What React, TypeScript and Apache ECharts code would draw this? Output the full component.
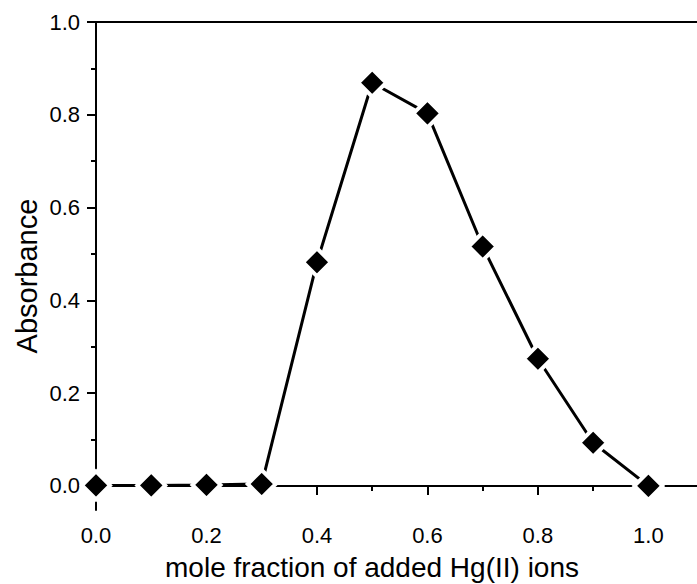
import React, { useEffect, useRef } from "react";
import * as echarts from "echarts";

const xValues = [0.0, 0.1, 0.2, 0.3, 0.4, 0.5, 0.6, 0.7, 0.8, 0.9, 1.0];
const absorbance = [0.001, 0.001, 0.002, 0.004, 0.482, 0.869, 0.803, 0.516, 0.274, 0.093, 0.0];
const majorTicks = [0.0, 0.2, 0.4, 0.6, 0.8, 1.0];
const minorTicks = [0.1, 0.3, 0.5, 0.7, 0.9];
const xTitle = "mole fraction of added Hg(II) ions";
const yTitle = "Absorbance";

const FONT = "Liberation Sans";

export default function App() {
  const ref = useRef<HTMLDivElement>(null);
  useEffect(() => {
    if (!ref.current) return;
    const chart = echarts.init(ref.current, undefined, { renderer: "svg" });
    const X_MIN = 0, X_MAX = 1.088, Y_MIN = -0.052, Y_MAX = 1.0;
    const axisLine = { show: true, lineStyle: { color: "#000", width: 2 } };
    const fmt = (v: number) => v.toFixed(1);
    chart.setOption({
      animation: false,
      backgroundColor: "#fff",
      grid: { left: 96, right: 0, top: 22, bottom: 74, containLabel: false },
      xAxis: [
        {
          type: "value", min: X_MIN, max: X_MAX, position: "bottom",
          axisLine, splitLine: { show: false },
          axisTick: { show: true, length: 9, inside: false, customValues: majorTicks, lineStyle: { color: "#000", width: 2 } },
          axisLabel: { show: true, customValues: majorTicks, formatter: fmt, color: "#000", fontSize: 22, fontFamily: FONT, margin: 14 },
        },
        {
          type: "value", min: X_MIN, max: X_MAX, position: "bottom",
          axisLine: { show: false }, splitLine: { show: false },
          axisTick: { show: true, length: 5, customValues: minorTicks, lineStyle: { color: "#000", width: 2 } },
          axisLabel: { show: false },
        },
        {
          type: "value", min: X_MIN, max: X_MAX, position: "top",
          axisLine, splitLine: { show: false },
          axisTick: { show: false }, axisLabel: { show: false },
        },
      ],
      yAxis: [
        {
          type: "value", min: Y_MIN, max: Y_MAX, position: "left",
          axisLine, splitLine: { show: false },
          axisTick: { show: true, length: 9, customValues: majorTicks, lineStyle: { color: "#000", width: 2 } },
          axisLabel: { show: true, customValues: majorTicks, formatter: fmt, color: "#000", fontSize: 22, fontFamily: FONT, margin: 16 },
        },
        {
          type: "value", min: Y_MIN, max: Y_MAX, position: "left",
          axisLine: { show: false }, splitLine: { show: false },
          axisTick: { show: true, length: 5, customValues: minorTicks, lineStyle: { color: "#000", width: 2 } },
          axisLabel: { show: false },
        },
      ],
      graphic: [
        {
          type: "text", x: 372, y: 567,
          style: { text: xTitle, fill: "#000", fontSize: 28, fontFamily: FONT, textAlign: "center", textVerticalAlign: "middle" },
        },
        {
          type: "text", x: 27, y: 276, rotation: Math.PI / 2,
          style: { text: yTitle, fill: "#000", fontSize: 29, fontFamily: FONT, textAlign: "center", textVerticalAlign: "middle" },
        },
      ],
      series: [
        {
          type: "line",
          xAxisIndex: 0, yAxisIndex: 0,
          data: xValues.map((x, i) => [x, absorbance[i]]),
          symbol: "diamond",
          symbolSize: 28,
          showAllSymbol: true,
          clip: false,
          lineStyle: { color: "#000", width: 3 },
          itemStyle: { color: "#000", borderColor: "#fff", borderWidth: 4 },
          emphasis: { disabled: true },
        },
      ],
    });
    return () => chart.dispose();
  }, []);
  return <div ref={ref} style={{ width: 697, height: 584, position: "absolute", left: 0, top: 0 }} />;
}
